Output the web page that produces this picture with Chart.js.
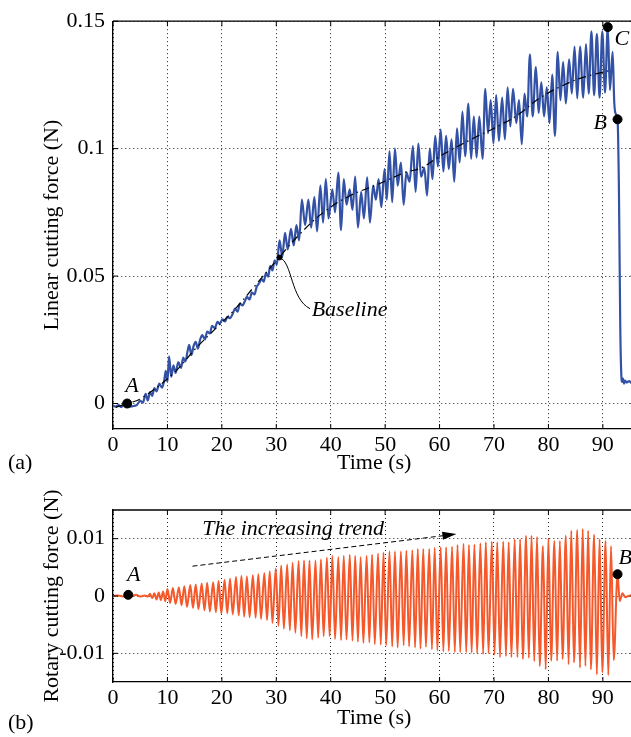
<!DOCTYPE html>
<html>
<head>
<meta charset="utf-8">
<script src="https://cdn.jsdelivr.net/npm/chart.js@4.4.0/dist/chart.umd.min.js"></script>
<style>
  html, body { margin: 0; padding: 0; background: #fff; overflow: hidden; width: 631px; height: 737px; }
  canvas { position: absolute; left: 0; }
</style>
</head>
<body>
<canvas id="linear" width="641" height="480" style="top:0"></canvas>
<canvas id="rotary" width="641" height="257" style="top:480px"></canvas>
<script>
// ---- axis ticks ----
const timeTicks = [0, 10, 20, 30, 40, 50, 60, 70, 80, 90];
const linTicks = [0, 0.05, 0.1, 0.15];
const linTickLabels = ['0', '0.05', '0.1', '0.15'];
const rotTicks = [-0.01, 0, 0.01];
const rotTickLabels = ['-0.01', '0', '0.01'];

// ---- (a) linear cutting force ----
const linTime = [
  0, 0.5, 1, 1.5, 2, 2.6, 3.2, 3.8, 4.4, 5,
  5.5, 6, 6.4, 6.8, 7.2, 7.6, 8, 8.5, 9, 9.4,
  9.7, 10, 10.3, 10.7, 11.1, 11.5, 12, 12.5, 12.9, 13.3,
  13.7, 14, 14.4, 14.8, 15.2, 15.6, 16, 16.4, 16.9, 17.3,
  17.8, 18.2, 18.7, 19.2, 19.6, 20.1, 20.6, 21, 21.5, 22,
  22.4, 22.9, 23.3, 23.8, 24.2, 24.6, 25.1, 25.5, 26, 26.4,
  26.8, 27.3, 27.7, 28.1, 28.5, 28.9, 29.3, 29.7, 30.1,
  30.6, 31.1, 31.6, 32.1, 32.7, 33.2, 33.7, 34.2,
  34.7, 35.3, 35.9, 36.4, 37, 37.5, 38.1, 38.6, 39.1, 39.6,
  40.3, 40.8, 41.4, 41.9, 42.4, 42.9, 43.5, 44, 44.5, 45,
  45.6, 46.1, 46.7, 47.2, 47.8, 48.3, 48.8, 49.3, 49.9, 50.3,
  50.8, 51.3, 51.8, 52.3, 52.9, 53.4, 53.9, 54.5, 55.1, 55.6,
  56.1, 56.6, 57.2, 57.7, 58.2, 58.7, 59.2, 59.7, 60.2, 60.7,
  61.2, 61.7, 62.2, 62.7, 63.2, 63.7, 64.2, 64.7, 65.3, 65.8,
  66.3, 66.8, 67.3, 67.9, 68.4, 68.9, 69.4, 69.9, 70.4, 70.9,
  71.5, 72, 72.5, 73, 73.5, 74.1, 74.6, 75.1, 75.6, 76.1,
  76.6, 77.1, 77.7, 78.2, 78.7, 79.2, 79.7, 80.2, 80.7, 81.2,
  81.7, 82.2, 82.7, 83.2, 83.8, 84.3, 84.8, 85.3, 85.8, 86.4,
  86.9, 87.4, 87.9, 88.4, 88.9, 89.4, 89.9, 90.4,
  90.9, 91.3, 91.8, 92.1, 92.4, 92.7, 92.95, 93.2, 93.4, 93.55,
  93.7, 93.9, 94.1, 94.4, 94.8, 95.3, 96
];
const linForce = [
  -0.0008, -0.0012, -0.0006, -0.0014, -0.0005, 0, -0.0012, -0.001, -0.0005, 0.001,
  0.0004, 0.0038, 0.0012, 0.0045, 0.003, 0.006, 0.0048, 0.0078, 0.0062, 0.009,
  0.0128, 0.0085, 0.0185, 0.0105, 0.015, 0.012, 0.0162, 0.014, 0.018, 0.0165,
  0.0205, 0.023, 0.019, 0.0225, 0.0242, 0.0215, 0.025, 0.0268, 0.0252, 0.0282,
  0.0275, 0.0305, 0.0296, 0.032, 0.0312, 0.033, 0.0322, 0.034, 0.0335, 0.0352,
  0.0372, 0.036, 0.0392, 0.0385, 0.04, 0.0418, 0.0408, 0.0435, 0.0428, 0.0458,
  0.047, 0.0488, 0.0478, 0.0512, 0.0498, 0.054, 0.0522, 0.0562, 0.0545,
  0.064, 0.0575, 0.067, 0.0605, 0.0685, 0.062, 0.07, 0.064,
  0.08, 0.07, 0.08, 0.069, 0.081, 0.0675, 0.0855, 0.071, 0.088, 0.0726,
  0.084, 0.075, 0.0906, 0.068, 0.088, 0.078, 0.084, 0.076, 0.089, 0.069,
  0.083, 0.0726, 0.0887, 0.071, 0.0855, 0.08, 0.088, 0.077, 0.092, 0.08,
  0.099, 0.079, 0.1, 0.0855, 0.0945, 0.078, 0.0906, 0.087, 0.101, 0.083,
  0.102, 0.089, 0.0925, 0.0816, 0.1, 0.088, 0.105, 0.093, 0.1075, 0.091,
  0.105, 0.092, 0.1036, 0.087, 0.108, 0.0946, 0.1145, 0.097, 0.1177, 0.096,
  0.1126, 0.0965, 0.1126, 0.096, 0.1235, 0.106, 0.119, 0.102, 0.121, 0.103,
  0.12, 0.1036, 0.124, 0.1087, 0.1235, 0.11, 0.119, 0.1017, 0.1216, 0.1126,
  0.137, 0.1126, 0.132, 0.114, 0.126, 0.1126, 0.124, 0.11, 0.129, 0.105,
  0.138, 0.119, 0.134, 0.1177, 0.135, 0.1216, 0.14, 0.1197, 0.14, 0.12,
  0.141, 0.1216, 0.146, 0.121, 0.145, 0.12, 0.146, 0.122,
  0.1477, 0.123, 0.138, 0.118, 0.1135, 0.1115, 0.085, 0.03, 0.011, 0.0085,
  0.0098, 0.0078, 0.009, 0.0082, 0.0088, 0.008, 0.0085
];
const baseTime = [0.5, 2.6, 5, 10.9, 15.2, 18.8, 22.4, 26, 30, 34.2, 38.8, 43.6,
  48.8, 53.6, 56.7, 60, 65.8, 71.8, 74.8, 78.5, 83.9, 87.6, 91.2];
const baseForce = [-0.0015, 0, 0.0018, 0.0114, 0.0216, 0.0293, 0.037, 0.046, 0.056, 0.0662, 0.0752, 0.0816,
  0.0861, 0.0906, 0.0925, 0.097, 0.1036, 0.11, 0.1139, 0.12, 0.126, 0.1287, 0.1306];
const linMarkTime = [2.6, 90.9, 92.7];      // A, C, B
const linMarkForce = [0, 0.1477, 0.1115];

// ---- (b) rotary cutting force: lead-in, peaks, troughs, tail ----
const rotLeadT = [0, 1, 2, 2.8, 3.5, 4.2, 5, 5.8, 6.4, 6.8, 7.2, 7.6, 8, 8.4, 8.8, 9.2, 9.6];
const rotLead = [0, 0.0001, -0.0001, 0.0002, 0, 0.0002, -0.0001, 0.0001, -0.0001, 0.0004,
  -0.0004, 0.0005, -0.0006, 0.0006, -0.0007, 0.0008, -0.0009];
const rotPeakT = [
  10, 11, 12.1, 13.1, 14.2, 15.2, 16.3, 17.3, 18.4, 19.4,
  20.5, 21.5, 22.6, 23.6, 24.6, 25.7, 26.7, 27.8, 28.8, 29.9,
  30.9, 32, 33, 34.1, 35.1, 36.1, 37.2, 38.2, 39.3, 40.3,
  41.4, 42.4, 43.5, 44.5, 45.5, 46.6, 47.6, 48.7, 49.7, 50.8,
  51.8, 52.9, 53.9, 55, 56, 57, 58.1, 59.1, 60.2, 61.2,
  62.3, 63.3, 64.4, 65.4, 66.4, 67.5, 68.5, 69.6, 70.6, 71.7,
  72.7, 73.8, 74.8, 75.9, 76.9, 77.9, 79, 80, 81.1, 82.1,
  83.2, 84.2, 85.3, 86.3, 87.3, 88.4, 89.4, 90.5, 91.5
];
const rotPeak = [
  0.0012, 0.0014, 0.0015, 0.0017, 0.0019, 0.002, 0.0022, 0.0023, 0.0024, 0.0026,
  0.0028, 0.003, 0.0033, 0.0035, 0.0034, 0.0036, 0.0038, 0.004, 0.0043, 0.0048,
  0.0053, 0.0055, 0.0058, 0.0061, 0.0062, 0.0062, 0.0062, 0.0064, 0.0067, 0.007,
  0.0068, 0.007, 0.0072, 0.007, 0.0068, 0.007, 0.0072, 0.0074, 0.0076, 0.0078,
  0.0078, 0.0078, 0.0079, 0.008, 0.0082, 0.0082, 0.0082, 0.0084, 0.0085, 0.0085,
  0.0086, 0.0089, 0.0091, 0.0089, 0.009, 0.0092, 0.0094, 0.0095, 0.0094, 0.0095,
  0.0094, 0.0099, 0.0099, 0.0105, 0.0105, 0.0103, 0.0087, 0.01, 0.0096, 0.0096,
  0.0105, 0.0114, 0.0115, 0.0117, 0.0114, 0.0107, 0.0099, 0.0096, 0.0087
];
const rotTroughT = [
  10.5, 11.5, 12.6, 13.6, 14.7, 15.7, 16.8, 17.8, 18.9, 19.9,
  21, 22, 23.1, 24.1, 25.1, 26.2, 27.2, 28.3, 29.3, 30.4,
  31.4, 32.5, 33.5, 34.6, 35.6, 36.6, 37.7, 38.7, 39.8, 40.8,
  41.9, 42.9, 44, 45, 46, 47.1, 48.1, 49.2, 50.2, 51.3,
  52.3, 53.4, 54.4, 55.5, 56.5, 57.5, 58.6, 59.6, 60.7, 61.7,
  62.8, 63.8, 64.9, 65.9, 66.9, 68, 69, 70.1, 71.1, 72.2,
  73.2, 74.3, 75.3, 76.4, 77.4, 78.4, 79.5, 80.5, 81.6, 82.6,
  83.7, 84.7, 85.8, 86.8, 87.8, 88.9, 89.9, 91, 92
];
const rotTrough = [
  -0.0012, -0.0014, -0.0016, -0.0019, -0.0021, -0.0023, -0.0025, -0.0027, -0.0028, -0.003,
  -0.003, -0.0032, -0.0034, -0.0036, -0.0037, -0.0038, -0.004, -0.0042, -0.0047, -0.0052,
  -0.0057, -0.006, -0.0064, -0.007, -0.0074, -0.0076, -0.0073, -0.007, -0.007, -0.0075,
  -0.0077, -0.0076, -0.0078, -0.008, -0.0082, -0.0081, -0.0084, -0.0085, -0.0086, -0.0088,
  -0.009, -0.0086, -0.0088, -0.009, -0.0092, -0.0089, -0.0093, -0.0095, -0.0097, -0.0096,
  -0.0098, -0.0098, -0.0098, -0.0099, -0.01, -0.0101, -0.01, -0.0102, -0.0107, -0.0105,
  -0.0107, -0.0107, -0.011, -0.0108, -0.0114, -0.0122, -0.0128, -0.0113, -0.0113, -0.011,
  -0.0119, -0.0116, -0.0125, -0.0122, -0.0128, -0.0137, -0.0133, -0.0138, -0.0112
];
const rotTailT = [92.7, 93.1, 93.6, 94.1, 95, 96];
const rotTail = [0.0038, -0.0009, 0.0005, -0.0002, 0.0001, 0];
const rotMarkTime = [2.8, 92.7];            // A, B
const rotMarkForce = [0.0002, 0.0038];

// ---- helpers ----
const serif = "'Liberation Serif', 'Times New Roman', serif";
const font22 = { family: serif, size: 22 };
const pts = (xs, ys) => xs.map((x, i) => ({ x: x, y: ys[i] }));

function xScale(height, titlePad) {
  return {
    type: 'linear', min: 0, max: 96,
    afterBuildTicks: s => { s.ticks = timeTicks.map(v => ({ value: v })); },
    afterFit: s => { s.height = height; },
    ticks: { font: font22, color: '#000', padding: 3, maxRotation: 0, autoSkip: false, callback: v => String(v) },
    grid: { color: '#222', lineWidth: 1, drawTicks: false },
    border: { display: true, color: '#000', width: 1.3, dash: [1, 3] },
    title: { display: true, text: 'Time (s)', font: font22, color: '#000', padding: { top: 0, bottom: titlePad } }
  };
}
function yScale(min, max, vals, labels, text) {
  return {
    type: 'linear', min: min, max: max,
    afterBuildTicks: s => { s.ticks = vals.map(v => ({ value: v })); },
    afterFit: s => { s.width = 113; },
    ticks: { font: font22, color: '#000', padding: 8, callback: (v, i) => labels[i] },
    grid: { color: '#222', lineWidth: 1, drawTicks: false },
    border: { display: true, color: '#000', width: 1.3, dash: [1, 3] },
    title: { display: true, text: text, font: font22, color: '#000', padding: { top: 39, bottom: 0 } }
  };
}

// box outline, inward ticks and annotation text
function decor(drawExtra) {
  return {
    id: 'decor',
    afterDraw(chart) {
      const { ctx, chartArea: a, scales: { x, y } } = chart;
      ctx.save();
      ctx.strokeStyle = '#000';
      ctx.lineWidth = 1.3;
      ctx.beginPath();
      ctx.moveTo(a.left, a.top); ctx.lineTo(a.right, a.top); ctx.lineTo(a.right, a.bottom);
      ctx.stroke();
      ctx.lineWidth = 1;
      ctx.beginPath();
      x.ticks.forEach(t => {
        const px = x.getPixelForValue(t.value);
        ctx.moveTo(px, a.bottom); ctx.lineTo(px, a.bottom - 5);
        ctx.moveTo(px, a.top); ctx.lineTo(px, a.top + 5);
      });
      y.ticks.forEach(t => {
        const py = y.getPixelForValue(t.value);
        ctx.moveTo(a.left, py); ctx.lineTo(a.left + 5, py);
        ctx.moveTo(a.right, py); ctx.lineTo(a.right - 5, py);
      });
      ctx.stroke();
      ctx.fillStyle = '#000';
      ctx.textBaseline = 'middle';
      drawExtra(ctx, x, y);
      ctx.restore();
    }
  };
}

function label(ctx, text, px, py, align, italic) {
  ctx.font = (italic ? 'italic ' : '') + '22px ' + serif;
  ctx.textAlign = align;
  ctx.fillText(text, px, py);
}

const common = {
  responsive: false,
  animation: false,
  events: [],
  plugins: { legend: { display: false }, tooltip: { enabled: false } }
};

function drawCharts() {
  new Chart(document.getElementById('linear'), {
    type: 'line',
    data: {
      datasets: [
        { data: pts(linMarkTime, linMarkForce), showLine: false, pointRadius: 4.5,
          pointBackgroundColor: '#000', pointBorderColor: '#000' },
        { data: pts([30.6], [0.0573]), showLine: false, pointRadius: 2.5,
          pointBackgroundColor: '#000', pointBorderColor: '#000' },
        { data: pts(baseTime, baseForce), borderColor: '#000', borderWidth: 1.2,
          borderDash: [8, 4, 1.5, 4], pointRadius: 0, tension: 0.4 },
        { data: pts(linTime, linForce), borderColor: '#3352a6', borderWidth: 2.2,
          pointRadius: 0, cubicInterpolationMode: 'monotone' }
      ]
    },
    options: Object.assign({}, common, {
      layout: { padding: { top: 14, right: 1, left: 0, bottom: 0 } },
      scales: {
        x: xScale(51, 4),
        y: yScale(-0.01, 0.15, linTicks, linTickLabels, 'Linear cutting force (N)')
      }
    }),
    plugins: [decor((ctx, x, y) => {
      label(ctx, 'A', x.getPixelForValue(3.5), y.getPixelForValue(0.0069), 'center', true);
      label(ctx, 'B', x.getPixelForValue(89.5), y.getPixelForValue(0.1099), 'center', true);
      label(ctx, 'C', x.getPixelForValue(93.5), y.getPixelForValue(0.1431), 'center', true);
      label(ctx, 'Baseline', x.getPixelForValue(36.5), y.getPixelForValue(0.0366), 'left', true);
      label(ctx, '(a)', 8, 463, 'left', false);
      ctx.lineWidth = 1;
      ctx.beginPath();
      ctx.moveTo(x.getPixelForValue(30.6), y.getPixelForValue(0.0573));
      ctx.bezierCurveTo(x.getPixelForValue(33.0), y.getPixelForValue(0.0555),
        x.getPixelForValue(32.6), y.getPixelForValue(0.041),
        x.getPixelForValue(36.2), y.getPixelForValue(0.0372));
      ctx.stroke();
    })]
  });

  const rotData = pts(rotLeadT, rotLead)
    .concat(pts(rotPeakT, rotPeak), pts(rotTroughT, rotTrough), pts(rotTailT, rotTail))
    .sort((p, q) => p.x - q.x);

  new Chart(document.getElementById('rotary'), {
    type: 'line',
    data: {
      datasets: [
        { data: pts(rotMarkTime, rotMarkForce), showLine: false, pointRadius: 4.5,
          pointBackgroundColor: '#000', pointBorderColor: '#000' },
        { data: rotData, borderColor: '#f5582a', borderWidth: 2,
          pointRadius: 0, cubicInterpolationMode: 'monotone' }
      ]
    },
    options: Object.assign({}, common, {
      layout: { padding: { top: 30, right: 1, left: 0, bottom: 0 } },
      scales: {
        x: xScale(55, 6),
        y: yScale(-0.015, 0.015, rotTicks, rotTickLabels, 'Rotary cutting force (N)')
      }
    }),
    plugins: [decor((ctx, x, y) => {
      label(ctx, 'A', x.getPixelForValue(3.8), y.getPixelForValue(0.0037), 'center', true);
      label(ctx, 'B', x.getPixelForValue(94.1), y.getPixelForValue(0.0066), 'center', true);
      label(ctx, 'The increasing trend', x.getPixelForValue(16.4), y.getPixelForValue(0.0117), 'left', true);
      label(ctx, '(b)', 8, 243, 'left', false);
      // dashed trend arrow
      const x0 = x.getPixelForValue(14.6), y0 = y.getPixelForValue(0.0052);
      const x1 = x.getPixelForValue(63.1), y1 = y.getPixelForValue(0.0108);
      const ang = Math.atan2(y1 - y0, x1 - x0);
      ctx.lineWidth = 1;
      ctx.setLineDash([5, 3]);
      ctx.beginPath();
      ctx.moveTo(x0, y0);
      ctx.lineTo(x1 - 12 * Math.cos(ang), y1 - 12 * Math.sin(ang));
      ctx.stroke();
      ctx.setLineDash([]);
      ctx.beginPath();
      ctx.moveTo(x1, y1);
      ctx.lineTo(x1 - 14 * Math.cos(ang) + 4 * Math.sin(ang), y1 - 14 * Math.sin(ang) - 4 * Math.cos(ang));
      ctx.lineTo(x1 - 14 * Math.cos(ang) - 4 * Math.sin(ang), y1 - 14 * Math.sin(ang) + 4 * Math.cos(ang));
      ctx.closePath();
      ctx.fill();
    })]
  });
}

// make sure the serif face is ready before the canvases draw text
Promise.all([
  document.fonts.load('22px "Liberation Serif"'),
  document.fonts.load('italic 22px "Liberation Serif"')
]).then(drawCharts, drawCharts);
</script>
</body>
</html>
